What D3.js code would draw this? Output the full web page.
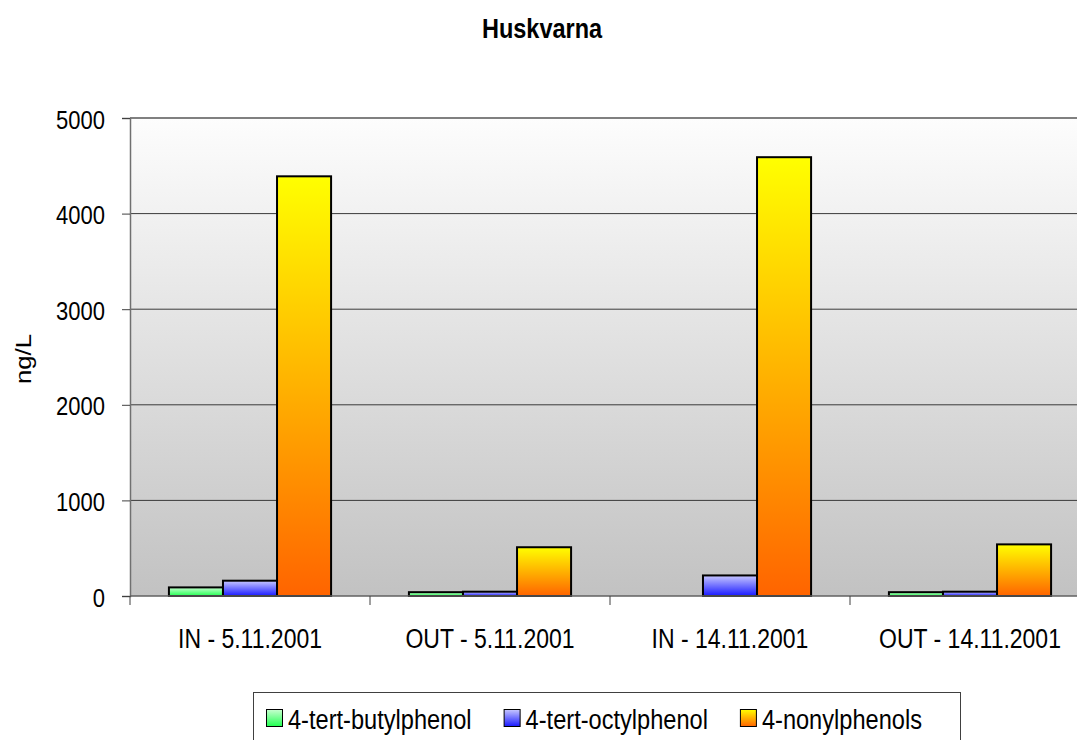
<!DOCTYPE html>
<html>
<head>
<meta charset="utf-8">
<script src="https://cdn.jsdelivr.net/npm/d3@7"></script>
<style>
    body { margin: 0; background: #fff; }
    text { font-family: "Liberation Sans", Arial, sans-serif; fill: #000; }
</style>
</head>
<body>
<div id="chart"></div>
<script>
// data
const categories = ["IN - 5.11.2001", "OUT - 5.11.2001", "IN - 14.11.2001", "OUT - 14.11.2001"];
const seriesNames = ["4-tert-butylphenol", "4-tert-octylphenol", "4-nonylphenols"];
const butylphenol = [90, 40, null, 40];
const octylphenol = [160, 45, 215, 45];
const nonylphenols = [4390, 510, 4590, 540];
const yTicks = [0, 1000, 2000, 3000, 4000, 5000];

const seriesValues = [butylphenol, octylphenol, nonylphenols];
// top / bottom colours of each bar gradient
const seriesColors = [["#c8ffd0", "#20ff50"], ["#c8c8ff", "#1818ff"], ["#ffff00", "#ff6400"]];

const width = 1077, height = 740;
const margin = { left: 130, top: 118, right: -13, bottom: 144 };
const stretch = 1.21; // text in the picture is drawn a bit taller than wide

const svg = d3.select("#chart").append("svg")
    .attr("width", width)
    .attr("height", height);

const defs = svg.append("defs");

// plot background: white at top, grey at the bottom
const bg = defs.append("linearGradient").attr("id", "bg")
    .attr("x1", 0).attr("y1", 0).attr("x2", 0).attr("y2", 1);
bg.append("stop").attr("offset", "0%").attr("stop-color", "#fdfdfd");
bg.append("stop").attr("offset", "100%").attr("stop-color", "#c2c2c2");

seriesColors.forEach((c, i) => {
    const g = defs.append("linearGradient").attr("id", "grad" + i)
        .attr("x1", 0).attr("y1", 0).attr("x2", 0).attr("y2", 1);
    g.append("stop").attr("offset", "0%").attr("stop-color", c[0]);
    g.append("stop").attr("offset", "100%").attr("stop-color", c[1]);
});

const x0 = d3.scaleBand()
    .domain(categories)
    .range([margin.left, width - margin.right]);

const x1 = d3.scaleBand()
    .domain(seriesNames)
    .range([0, x0.bandwidth()])
    .paddingOuter(0.72);

const y = d3.scaleLinear()
    .domain([0, 5000])
    .range([height - margin.bottom, margin.top]);

// title
svg.append("text")
    .attr("transform", `translate(542,38) scale(1,${stretch})`)
    .attr("text-anchor", "middle")
    .style("font-size", "23.5px")
    .style("font-weight", "bold")
    .text("Huskvarna");

// plot area
svg.append("rect")
    .attr("x", x0.range()[0])
    .attr("y", y(5000))
    .attr("width", x0.range()[1] - x0.range()[0])
    .attr("height", y(0) - y(5000))
    .attr("fill", "url(#bg)");

// gridlines
svg.append("g")
    .selectAll("line")
    .data(yTicks.filter(d => d > 0 && d < 5000))
    .join("line")
    .attr("x1", x0.range()[0])
    .attr("x2", x0.range()[1])
    .attr("y1", d => y(d))
    .attr("y2", d => y(d))
    .attr("stroke", "#3a3a3a")
    .attr("stroke-width", 1);

svg.append("line")
    .attr("x1", x0.range()[0])
    .attr("x2", x0.range()[1])
    .attr("y1", y(5000))
    .attr("y2", y(5000))
    .attr("stroke", "#808080")
    .attr("stroke-width", 2);

// bars
const groups = svg.append("g")
    .selectAll("g")
    .data(categories)
    .join("g")
    .attr("transform", d => `translate(${x0(d)},0)`);

groups.selectAll("rect")
    .data((d, ci) => seriesNames.map((s, si) => ({ s, si, v: seriesValues[si][ci] })).filter(d => d.v != null))
    .join("rect")
    .attr("x", d => x1(d.s))
    .attr("y", d => y(d.v))
    .attr("width", x1.bandwidth())
    .attr("height", d => y(0) - y(d.v))
    .attr("fill", d => `url(#grad${d.si})`)
    .attr("stroke", "#000")
    .attr("stroke-width", 2);

// y axis
const yAxis = svg.append("g")
    .attr("transform", `translate(${margin.left},0)`)
    .call(d3.axisLeft(y).tickValues(yTicks).tickSize(8).tickPadding(17).tickFormat(d3.format("d")));

yAxis.select(".domain").attr("stroke", "#707070").attr("stroke-width", 1.5);
yAxis.selectAll(".tick line").attr("stroke", "#404040");
yAxis.selectAll(".tick text")
    .attr("dy", null)
    .attr("transform", `translate(0,10) scale(1,${stretch})`)
    .style("font-size", "22px")
    .attr("fill", "#000");

// x axis
svg.append("line")
    .attr("x1", x0.range()[0])
    .attr("x2", x0.range()[1])
    .attr("y1", y(0))
    .attr("y2", y(0))
    .attr("stroke", "#606060")
    .attr("stroke-width", 1.5);

svg.append("g")
    .selectAll("line")
    .data(categories.map(d => x0(d)).concat([x0.range()[1]]))
    .join("line")
    .attr("x1", d => d)
    .attr("x2", d => d)
    .attr("y1", y(0))
    .attr("y2", y(0) + 9)
    .attr("stroke", "#404040")
    .attr("stroke-width", 1);

svg.append("g")
    .selectAll("text")
    .data(categories)
    .join("text")
    .attr("transform", d => `translate(${x0(d) + x0.bandwidth() / 2},${y(0) + 52}) scale(1,${stretch})`)
    .attr("text-anchor", "middle")
    .style("font-size", "23px")
    .text(d => d);

// y label
svg.append("text")
    .attr("transform", `translate(31,${(y(0) + y(5000)) / 2 + 2}) rotate(-90) scale(1.17,1)`)
    .attr("text-anchor", "middle")
    .style("font-size", "22px")
    .text("ng/L");

// legend
const legend = svg.append("g");
legend.append("rect")
    .attr("x", 253.5)
    .attr("y", 692.5)
    .attr("width", 707)
    .attr("height", 80)
    .attr("fill", "#fff")
    .attr("stroke", "#404040")
    .attr("stroke-width", 1);

let lx = 266;
seriesNames.forEach((name, i) => {
    legend.append("rect")
        .attr("x", lx + 0.5)
        .attr("y", 709.5)
        .attr("width", 16)
        .attr("height", 17)
        .attr("fill", `url(#grad${i})`)
        .attr("stroke", "#000")
        .attr("stroke-width", 1);
    const t = legend.append("text")
        .attr("transform", `translate(${lx + 22},729) scale(1,${stretch})`)
        .style("font-size", "23.6px")
        .text(name);
    lx += 22 + t.node().getComputedTextLength() + 32;
});
</script>
</body>
</html>
